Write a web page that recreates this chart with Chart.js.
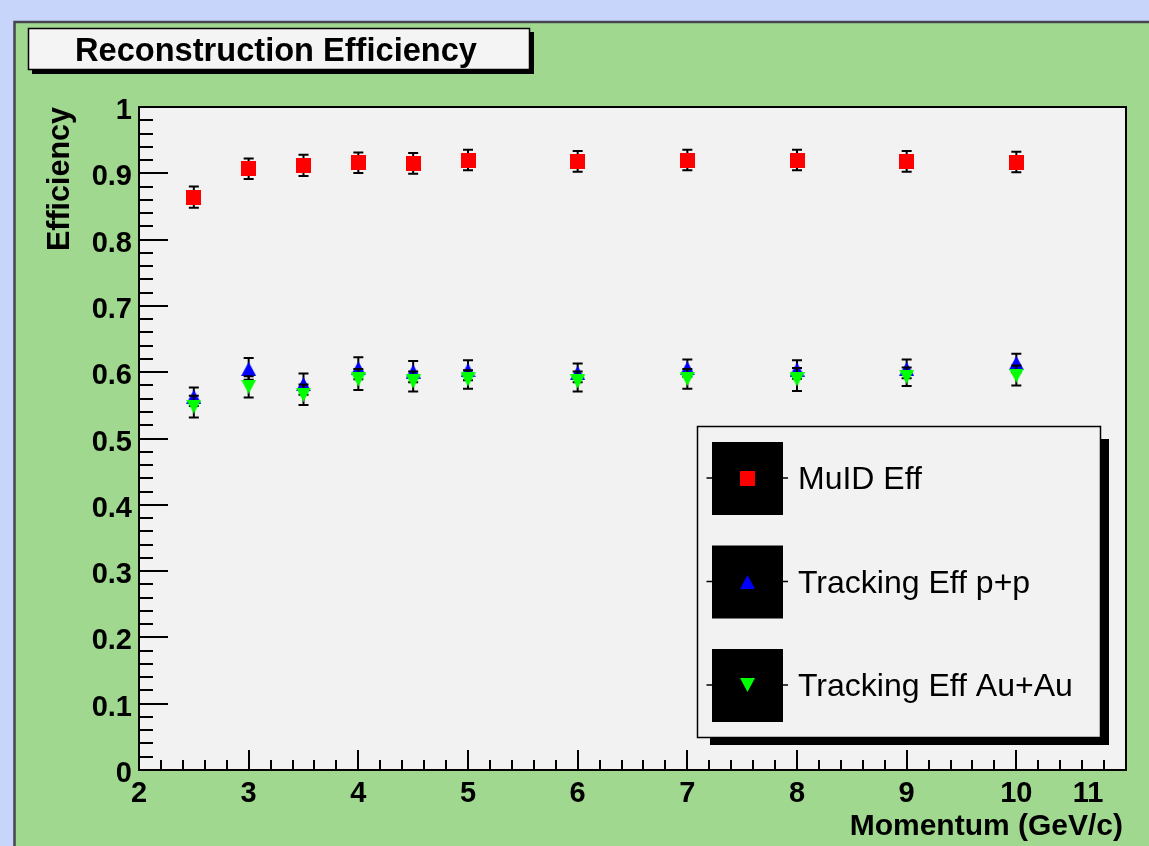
<!DOCTYPE html>
<html>
<head>
<meta charset="utf-8">
<script src="https://cdn.jsdelivr.net/npm/chart.js@4/dist/chart.umd.min.js"></script>
<style>
  html, body { margin: 0; padding: 0; background: #c7d5fb; overflow: hidden; }
  #wrap { width: 1149px; height: 846px; position: relative; }
  canvas { display: block; }
</style>
</head>
<body>
<div id="wrap"><canvas id="c" width="1149" height="846"></canvas></div>
<script>
// Momentum bins (GeV/c)
const momentum = [2.5, 3, 3.5, 4, 4.5, 5, 6, 7, 8, 9, 10];

// MuID efficiency and its errors
const muidEff = [0.864, 0.907, 0.912, 0.916, 0.915, 0.920, 0.918, 0.920, 0.920, 0.918, 0.917];
const muidErr = [0.016, 0.0155, 0.016, 0.0155, 0.0155, 0.0155, 0.0155, 0.0155, 0.0155, 0.0155, 0.0155];

// Tracking efficiency, p+p
const ppEff = [0.563, 0.605, 0.582, 0.606, 0.601, 0.603, 0.599, 0.606, 0.604, 0.605, 0.614];
const ppErr = [0.014, 0.0165, 0.016, 0.0165, 0.016, 0.015, 0.014, 0.013, 0.014, 0.014, 0.014];

// Tracking efficiency, Au+Au
const auauEff = [0.548, 0.578, 0.566, 0.589, 0.586, 0.589, 0.586, 0.590, 0.589, 0.593, 0.595];
const auauErr = [0.0165, 0.016, 0.0155, 0.016, 0.015, 0.014, 0.015, 0.015, 0.0175, 0.014, 0.015];

const seriesLabels = ['MuID Eff', 'Tracking Eff p+p', 'Tracking Eff Au+Au'];

// Axis ticks
const xTickValues = [2, 3, 4, 5, 6, 7, 8, 9, 10, 11];
const xTickLabels = ['2', '3', '4', '5', '6', '7', '8', '9', '10', '11'];
const yTickValues = [0, 0.1, 0.2, 0.3, 0.4, 0.5, 0.6, 0.7, 0.8, 0.9, 1];
const yTickLabels = ['0', '0.1', '0.2', '0.3', '0.4', '0.5', '0.6', '0.7', '0.8', '0.9', '1'];

const titleText = 'Reconstruction Efficiency';
const xTitle = 'Momentum (GeV/c)';
const yTitle = 'Efficiency';

const FONT = '"Liberation Sans", Arial, Helvetica, sans-serif';

// Marker glyphs, centred on their bounding box
function marker(shape, color, w, h) {
  const c = document.createElement('canvas');
  c.width = w; c.height = h;
  const g = c.getContext('2d');
  g.fillStyle = color;
  g.beginPath();
  if (shape === 'square') {
    g.rect(0, 0, w, h);
  } else if (shape === 'up') {
    g.moveTo(w / 2, 0); g.lineTo(w, h); g.lineTo(0, h);
  } else {
    g.moveTo(0, 0); g.lineTo(w, 0); g.lineTo(w / 2, h);
  }
  g.closePath();
  g.fill();
  return c;
}
const redSquare = marker('square', '#ff0000', 15, 15);
const blueUp = marker('up', '#0000ff', 15, 14);
const greenDown = marker('down', '#00ff00', 15, 14);

function toPoints(ys) { return momentum.map((x, i) => ({ x: x, y: ys[i] })); }

// Vertical error bars with caps, drawn just before each dataset's markers
const errorBars = {
  id: 'errorBars',
  beforeDatasetDraw(chart, args) {
    const ds = chart.data.datasets[args.index];
    if (!ds.errors) return;
    const ctx = chart.ctx;
    const y = chart.scales.y;
    ctx.save();
    ctx.strokeStyle = '#000';
    ctx.lineWidth = 2;
    args.meta.data.forEach((pt, i) => {
      const v = ds.data[i].y, e = ds.errors[i];
      const top = y.getPixelForValue(v + e);
      const bot = y.getPixelForValue(v - e);
      ctx.beginPath();
      ctx.moveTo(pt.x, top); ctx.lineTo(pt.x, bot);
      ctx.moveTo(pt.x - 5, top); ctx.lineTo(pt.x + 5, top);
      ctx.moveTo(pt.x - 5, bot); ctx.lineTo(pt.x + 5, bot);
      ctx.stroke();
    });
    ctx.restore();
  }
};

// Canvas background, pad and frame fill
const background = {
  id: 'background',
  beforeDraw(chart) {
    const ctx = chart.ctx;
    const a = chart.chartArea;
    ctx.save();
    ctx.fillStyle = '#c7d5fb';
    ctx.fillRect(0, 0, chart.width, chart.height);
    ctx.fillStyle = '#a1d88f';
    ctx.fillRect(14, 22, chart.width - 14, chart.height - 22);
    ctx.strokeStyle = '#45454f';
    ctx.lineWidth = 2.5;
    ctx.beginPath();
    ctx.moveTo(14.5, chart.height); ctx.lineTo(14.5, 22); ctx.lineTo(chart.width, 22);
    ctx.stroke();
    ctx.fillStyle = '#f2f2f2';
    ctx.fillRect(a.left, a.top, a.right - a.left, a.bottom - a.top);
    ctx.restore();
  }
};

// Frame, tick marks, tick labels, axis titles, title box and legend
const decorations = {
  id: 'decorations',
  afterDatasetsDraw(chart) {
    const ctx = chart.ctx;
    const a = chart.chartArea;
    const xs = chart.scales.x, ys = chart.scales.y;
    ctx.save();

    // tick marks
    ctx.strokeStyle = '#000';
    ctx.lineWidth = 2;
    ctx.beginPath();
    for (let k = 0; k <= 50; k++) {
      const v = k * 0.02;
      const py = Math.round(ys.getPixelForValue(v));
      const len = (k % 5 === 0) ? 29 : 14;
      ctx.moveTo(a.left, py); ctx.lineTo(a.left + len, py);
    }
    for (let k = 0; k <= 45; k++) {
      const v = 2 + k * 0.2;
      const px = Math.round(xs.getPixelForValue(v));
      const len = (k % 5 === 0) ? 20 : 10;
      ctx.moveTo(px, a.bottom); ctx.lineTo(px, a.bottom - len);
    }
    ctx.stroke();

    // frame
    ctx.lineWidth = 2;
    ctx.strokeRect(a.left, a.top, a.right - a.left, a.bottom - a.top);

    // tick labels
    ctx.fillStyle = '#000';
    ctx.font = 'bold 29px ' + FONT;
    ctx.textBaseline = 'alphabetic';
    ctx.textAlign = 'right';
    yTickValues.forEach((v, i) => {
      ctx.fillText(yTickLabels[i], 132, ys.getPixelForValue(v) + 12);
    });
    ctx.textAlign = 'center';
    xTickValues.forEach((v, i) => {
      let px = xs.getPixelForValue(v);
      if (i === xTickValues.length - 1) px -= 38;
      ctx.fillText(xTickLabels[i], px, 802);
    });

    // axis titles
    ctx.font = 'bold 30px ' + FONT;
    ctx.textAlign = 'right';
    ctx.fillText(xTitle, 1123, 835);
    ctx.save();
    ctx.translate(69, 179);
    ctx.rotate(-Math.PI / 2);
    ctx.textAlign = 'center';
    ctx.font = 'bold 30.5px ' + FONT;
    ctx.fillText(yTitle, 0, 0);
    ctx.restore();

    // title box
    ctx.fillStyle = '#000';
    ctx.fillRect(32, 32, 502, 42);
    ctx.fillStyle = '#f4f4f4';
    ctx.fillRect(28, 28, 502, 42);
    ctx.lineWidth = 1.5;
    ctx.strokeStyle = '#000';
    ctx.strokeRect(28.5, 28.5, 501, 41);
    ctx.fillStyle = '#000';
    ctx.font = 'bold 32.6px ' + FONT;
    ctx.textAlign = 'center';
    ctx.fillText(titleText, 276, 61);

    // legend
    ctx.fillStyle = '#000';
    ctx.fillRect(710, 439, 399, 306);
    ctx.fillStyle = '#f2f2f2';
    ctx.fillRect(697, 426, 403, 311);
    ctx.lineWidth = 1.5;
    ctx.strokeRect(697.5, 426.5, 403, 311);
    ctx.font = '32px ' + FONT;
    ctx.textAlign = 'left';
    chart.data.datasets.forEach((ds, i) => {
      const top = 442 + i * 103.5;
      const cy = top + 36;
      ctx.fillStyle = '#000';
      ctx.fillRect(712, top, 71, 73);
      ctx.beginPath();
      ctx.moveTo(706.5, cy); ctx.lineTo(712, cy);
      ctx.moveTo(783, cy); ctx.lineTo(788, cy);
      ctx.stroke();
      const img = ds.pointStyle;
      ctx.drawImage(img, Math.round(747.5 - img.width / 2), Math.round(cy - img.height / 2));
      ctx.fillStyle = '#000';
      ctx.fillText(ds.label, 798, top + 47);
    });

    ctx.restore();
  }
};

new Chart(document.getElementById('c'), {
  type: 'scatter',
  data: {
    datasets: [
      { label: seriesLabels[0], data: toPoints(muidEff), errors: muidErr, pointStyle: redSquare, pointRadius: 8, borderWidth: 0, order: 3 },
      { label: seriesLabels[1], data: toPoints(ppEff), errors: ppErr, pointStyle: blueUp, pointRadius: 8, borderWidth: 0, order: 2 },
      { label: seriesLabels[2], data: toPoints(auauEff), errors: auauErr, pointStyle: greenDown, pointRadius: 8, borderWidth: 0, order: 1 }
    ]
  },
  options: {
    responsive: false,
    devicePixelRatio: 1,
    animation: false,
    layout: { padding: { left: 139, top: 107, right: 23, bottom: 76 } },
    scales: {
      x: { type: 'linear', min: 2, max: 11, display: false },
      y: { type: 'linear', min: 0, max: 1, display: false }
    },
    plugins: {
      legend: { display: false },
      title: { display: false },
      tooltip: { enabled: false }
    },
    elements: { point: { hoverRadius: 8 } }
  },
  plugins: [background, errorBars, decorations]
});
</script>
</body>
</html>
